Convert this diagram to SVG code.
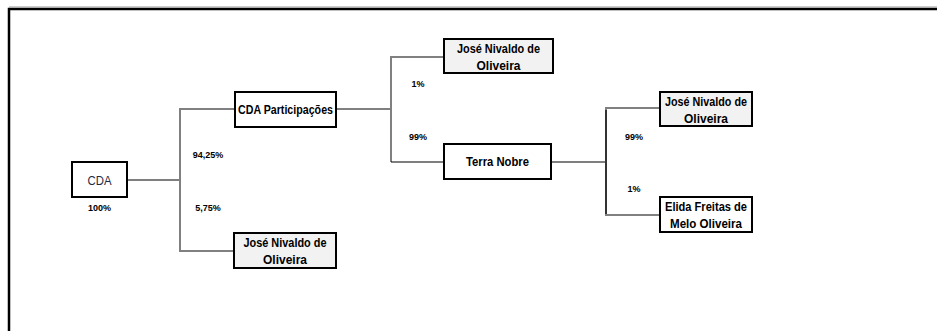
<svg xmlns="http://www.w3.org/2000/svg" width="937" height="331" viewBox="0 0 937 331">
<style>
.box{stroke:#000;stroke-width:2;fill:#fff}
.gray{fill:#f2f2f2}
.t{font-family:"Liberation Sans",Arial,sans-serif;font-size:12.5px;font-weight:bold;fill:#000;text-anchor:middle}
.p{font-family:"Liberation Sans",Arial,sans-serif;font-size:9px;font-weight:bold;fill:#000;text-anchor:middle}
.cg{stroke:#808080;stroke-width:2;fill:none}
.cb{stroke:#000;stroke-width:1.2;fill:none}
</style>
<rect x="0" y="0" width="937" height="331" fill="#fff"/>
<path d="M9 331 V9 H937" fill="none" stroke="#000" stroke-width="2.5"/>
<line x1="9" y1="7" x2="937" y2="7" stroke="#9a9a9a" stroke-width="1"/>
<g id="connectors">
<line class="cb" x1="127" y1="180" x2="180" y2="180"/>
<polyline class="cg" points="235,109 180,109 180,251 234,251"/>
<line class="cg" x1="336" y1="109" x2="391" y2="109"/>
<polyline class="cg" points="444,57 391,57 391,162"/>
<line class="cb" x1="391" y1="162" x2="444" y2="162"/>
<line class="cb" x1="551" y1="162" x2="606" y2="162"/>
<polyline class="cg" points="660,108 606,108 606,215 660,215"/>
<line class="cb" x1="606" y1="110" x2="606" y2="214"/>
</g>
<g id="cda">
<rect class="box" x="72" y="162" width="55" height="35"/>
<text x="99.5" y="184.5" class="t" style="font-weight:normal;fill:#1f2a44" textLength="24" lengthAdjust="spacingAndGlyphs">CDA</text>
<text x="99.5" y="211" class="p">100%</text>
</g>
<g id="cda-participacoes">
<rect class="box" x="235" y="92" width="101" height="35"/>
<text x="285.5" y="114" class="t" textLength="95" lengthAdjust="spacingAndGlyphs">CDA Participações</text>
</g>
<g id="jose-1">
<rect class="box gray" x="234" y="233" width="102" height="35"/>
<text x="285" y="247" class="t" textLength="83" lengthAdjust="spacingAndGlyphs">José Nivaldo de</text>
<text x="285" y="264" class="t" textLength="44" lengthAdjust="spacingAndGlyphs">Oliveira</text>
</g>
<g id="jose-2">
<rect class="box gray" x="444" y="39" width="109" height="34"/>
<text x="498.5" y="53" class="t" textLength="83" lengthAdjust="spacingAndGlyphs">José Nivaldo de</text>
<text x="498.5" y="69.5" class="t" textLength="44" lengthAdjust="spacingAndGlyphs">Oliveira</text>
</g>
<g id="terra-nobre">
<rect class="box" x="444" y="144" width="107" height="35"/>
<text x="497.5" y="166" class="t" textLength="63" lengthAdjust="spacingAndGlyphs">Terra Nobre</text>
</g>
<g id="jose-3">
<rect class="box gray" x="660" y="92" width="92" height="34"/>
<text x="706" y="106" class="t" textLength="82" lengthAdjust="spacingAndGlyphs">José Nivaldo de</text>
<text x="706" y="122.5" class="t" textLength="44" lengthAdjust="spacingAndGlyphs">Oliveira</text>
</g>
<g id="elida">
<rect class="box" x="660" y="197" width="92" height="35"/>
<text x="706" y="211" class="t" textLength="82" lengthAdjust="spacingAndGlyphs">Elida Freitas de</text>
<text x="706" y="228" class="t" textLength="72" lengthAdjust="spacingAndGlyphs">Melo Oliveira</text>
</g>
<g id="labels">
<text x="208" y="158" class="p">94,25%</text>
<text x="208" y="211" class="p">5,75%</text>
<text x="418" y="87" class="p">1%</text>
<text x="418" y="140" class="p">99%</text>
<text x="634" y="140" class="p">99%</text>
<text x="634" y="192" class="p">1%</text>
</g>
</svg>
